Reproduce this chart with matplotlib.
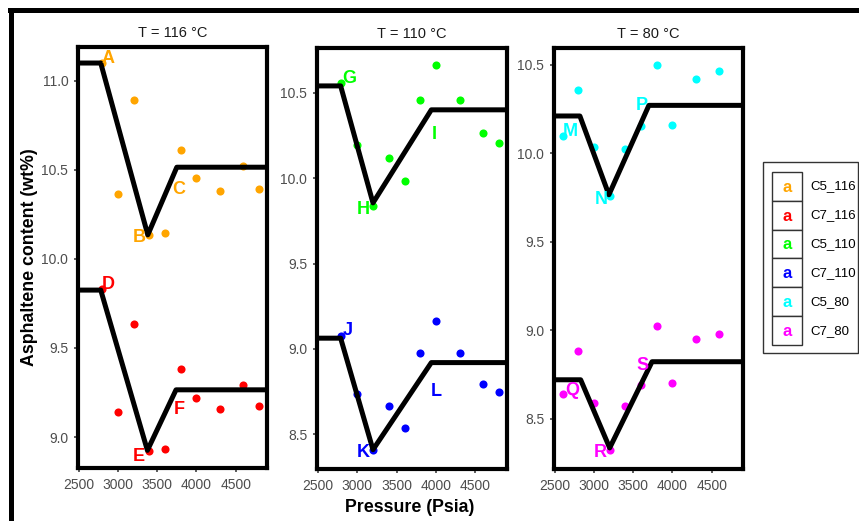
import matplotlib
matplotlib.use("Agg")
import matplotlib.pyplot as plt
from matplotlib.lines import Line2D
from matplotlib.patches import Rectangle

plt.rcParams['font.family'] = ['Liberation Sans', 'DejaVu Sans']

# ---- data ----
pressure_hi = [2800, 3000, 3200, 3400, 3600, 3800, 4000, 4300, 4600, 4800]
pressure_80 = [2600, 2800, 3000, 3200, 3400, 3600, 3800, 4000, 4300, 4600]

c5_116 = [11.10, 10.365, 10.89, 10.135, 10.145, 10.61, 10.455, 10.38, 10.52, 10.39]
c7_116 = [9.83, 9.142, 9.633, 8.923, 8.931, 9.38, 9.22, 9.159, 9.29, 9.174]
c5_110 = [10.555, 10.194, 9.837, 10.12, 9.983, 10.457, 10.662, 10.457, 10.266, 10.204]
c7_110 = [9.074, 8.738, 8.408, 8.664, 8.535, 8.977, 9.162, 8.977, 8.795, 8.746]
c5_80 = [10.095, 10.355, 10.033, 9.756, 10.025, 10.151, 10.5, 10.161, 10.421, 10.462]
c7_80 = [8.642, 8.883, 8.586, 8.325, 8.572, 8.691, 9.024, 8.70, 8.953, 8.979]

# piecewise trend lines (plateau - drop - rise - plateau)
trend_x = {
    'C5_116': [2490, 2780, 3380, 3750, 4900],
    'C7_116': [2490, 2780, 3375, 3740, 4900],
    'C5_110': [2490, 2790, 3200, 3940, 4900],
    'C7_110': [2490, 2790, 3200, 3940, 4900],
    'C5_80': [2490, 2820, 3190, 3700, 4900],
    'C7_80': [2490, 2830, 3200, 3740, 4900],
}
trend_y = {
    'C5_116': [11.10, 11.10, 10.135, 10.515, 10.515],
    'C7_116': [9.825, 9.825, 8.925, 9.265, 9.265],
    'C5_110': [10.54, 10.54, 9.855, 10.40, 10.40],
    'C7_110': [9.063, 9.063, 8.41, 8.92, 8.92],
    'C5_80': [10.21, 10.21, 9.765, 10.27, 10.27],
    'C7_80': [8.72, 8.72, 8.335, 8.822, 8.822],
}

# point labels: letter, x, y
labels = {
    'C5_116': [('A', 2875, 11.124), ('B', 3275, 10.12), ('C', 3775, 10.388)],
    'C7_116': [('D', 2875, 9.858), ('E', 3266, 8.89), ('F', 3775, 9.156)],
    'C5_110': [('G', 2900, 10.584), ('H', 3081, 9.817), ('I', 3973, 10.258)],
    'C7_110': [('J', 2880, 9.109), ('K', 3080, 8.395), ('L', 4005, 8.752)],
    'C5_80': [('M', 2698, 10.123), ('N', 3090, 9.737), ('P', 3616, 10.268)],
    'C7_80': [('Q', 2723, 8.657), ('R', 3077, 8.309), ('S', 3616, 8.802)],
}

series_names = ['C5_116', 'C7_116', 'C5_110', 'C7_110', 'C5_80', 'C7_80']
series_colors = ['#FFA500', '#FF0000', '#00FF00', '#0000FF', '#00FFFF', '#FF00FF']
colors = dict(zip(series_names, series_colors))

panels = [
    ('T = 116 °C', pressure_hi, {'C5_116': c5_116, 'C7_116': c7_116}, (8.826, 11.19), [9.0, 9.5, 10.0, 10.5, 11.0]),
    ('T = 110 °C', pressure_hi, {'C5_110': c5_110, 'C7_110': c7_110}, (8.297, 10.762), [8.5, 9.0, 9.5, 10.0, 10.5]),
    ('T = 80 °C', pressure_80, {'C5_80': c5_80, 'C7_80': c7_80}, (8.216, 10.594), [8.5, 9.0, 9.5, 10.0, 10.5]),
]

W, H = 859, 521
fig = plt.figure(figsize=(W / 100, H / 100), dpi=100)

# panel boxes in pixels: left, top, right, bottom
boxes = [(78, 47, 267, 468), (317, 48, 507, 469), (554, 48, 743, 469)]

for (title, px, series, ylim, yticks), (l, t, r, b) in zip(panels, boxes):
    ax = fig.add_axes([l / W, 1 - b / H, (r - l) / W, (b - t) / H])
    for name, vals in series.items():
        ax.scatter(px, vals, s=34, color=colors[name], zorder=2, linewidths=0)
        ax.plot(trend_x[name], trend_y[name], color='black', lw=3.6,
                solid_joinstyle='round', solid_capstyle='butt', zorder=3)
        for letter, lx, ly in labels[name]:
            ax.text(lx, ly, letter, color=colors[name], fontsize=13, fontweight='bold',
                    ha='center', va='center', zorder=4)
    ax.set_xlim(2490, 4900)
    ax.set_ylim(*ylim)
    ax.set_xticks([2500, 3000, 3500, 4000, 4500])
    ax.set_yticks(yticks)
    ax.set_yticklabels([f'{v:.1f}' for v in yticks])
    ax.tick_params(labelsize=10, labelcolor='#4D4D4D', color='#333333',
                   length=3, width=1.1, pad=4)
    for sp in ax.spines.values():
        sp.set_linewidth(3.0)
        sp.set_color('black')
    ax.set_title(title, fontsize=10.5, color='#1A1A1A', pad=7)

fig.text(30 / W, 1 - 257 / H, 'Asphaltene content (wt%)', rotation=90, fontsize=12.8,
         fontweight='bold', ha='center', va='center')
fig.text(410 / W, 1 - 507 / H, 'Pressure (Psia)', fontsize=12.8, fontweight='bold',
         ha='center', va='center')

# outer frame (top and left edges visible)
fig.add_artist(Line2D([10 / W, 1.0], [1 - 9.5 / H, 1 - 9.5 / H], color='black', lw=3.6,
                      transform=fig.transFigure, solid_capstyle='projecting'))
fig.add_artist(Line2D([10.5 / W, 10.5 / W], [0, 1 - 9.5 / H], color='black', lw=3.6,
                      transform=fig.transFigure, solid_capstyle='projecting'))

# legend drawn in pixel coordinates
lg = fig.add_axes([0, 0, 1, 1], facecolor='none')
lg.set_xlim(0, W)
lg.set_ylim(H, 0)
lg.axis('off')
lg.add_patch(Rectangle((763, 162), 95, 191, fill=False, edgecolor='#333333', lw=1.0))
key_h = 28.9
for i, name in enumerate(series_names):
    y0 = 171.7 + i * key_h
    lg.add_patch(Rectangle((772, y0), 29.7, key_h, facecolor='white',
                           edgecolor='#333333', lw=1.0))
    lg.text(786.8, y0 + key_h / 2 + 1, 'a', color=colors[name], fontsize=12,
            fontweight='bold', ha='center', va='center')
    lg.text(810, y0 + key_h / 2, name, fontsize=9.5, ha='left', va='center')

fig.savefig('out.png', dpi=100)
